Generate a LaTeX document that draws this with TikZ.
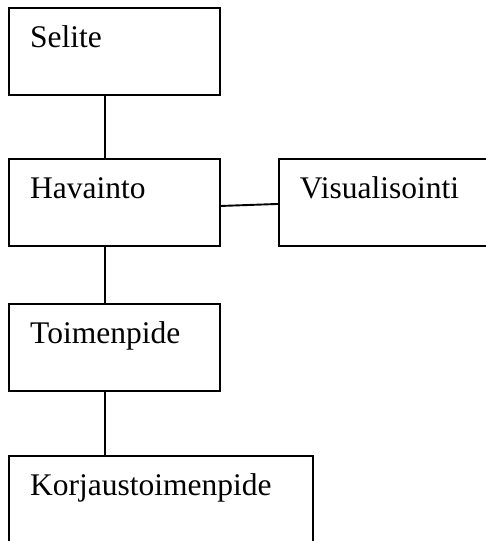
\documentclass[tikz,border=0pt]{standalone}
\usepackage{fontspec}
\setmainfont{Liberation Serif}
\begin{document}
\begin{tikzpicture}[x=1pt,y=-1pt,
  box/.style={draw=black, line width=1.9pt, rectangle, inner sep=0pt, anchor=north west},
  lbl/.style={anchor=base west, font=\fontsize{31.5}{36}\selectfont, inner sep=0pt, xshift=21.7pt, yshift=-40.5pt},
  conn/.style={draw=black, line width=1.9pt}]
\useasboundingbox (0,0) rectangle (485,541);
\node[box, minimum width=211pt, minimum height=87pt, label={[lbl]north west:Selite}] (selite) at (8.3,7.3) {};
\node[box, minimum width=211pt, minimum height=87pt, label={[lbl]north west:Havainto}] (havainto) at (8.3,158) {};
\node[box, minimum width=230pt, minimum height=87pt, label={[lbl]north west:Visualisointi}] (visual) at (278,158) {};
\node[box, minimum width=211pt, minimum height=87pt, label={[lbl]north west:Toimenpide}] (toimen) at (8.3,303) {};
\node[box, minimum width=303.7pt, minimum height=110pt, label={[lbl]north west:Korjaustoimenpide}] (korjaus) at (8.3,455) {};
\coordinate (cx) at (105,0);
\draw[conn] (cx |- selite.south) -- (cx |- havainto.north);
\draw[conn] (cx |- havainto.south) -- (cx |- toimen.north);
\draw[conn] (cx |- toimen.south) -- (cx |- korjaus.north);
\draw[conn] ([yshift=-3.5pt]havainto.east) -- ([yshift=-1.5pt]visual.west);
\end{tikzpicture}
\end{document}
